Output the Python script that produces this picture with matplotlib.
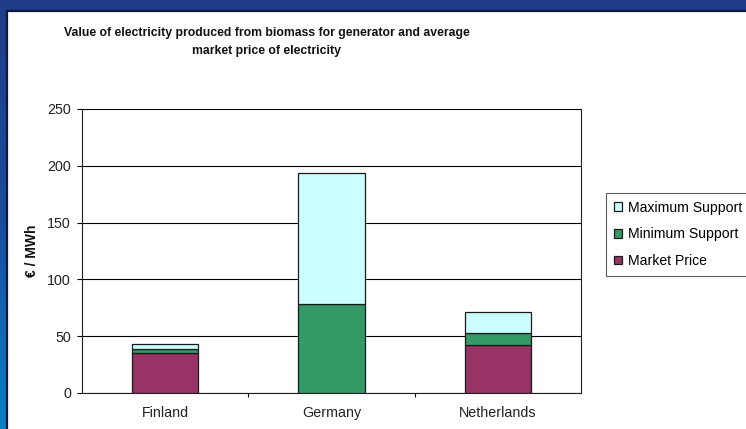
import numpy as np
import matplotlib.pyplot as plt
from matplotlib.patches import Rectangle
from matplotlib.colors import LinearSegmentedColormap

# Chart data (EUR / MWh)
countries = ['Finland', 'Germany', 'Netherlands']
market_price = [35, 0, 42]
minimum_support = [4, 78, 11]
maximum_support = [4, 116, 18]
series_labels = ['Market Price', 'Minimum Support', 'Maximum Support']
series_colors = ['#993366', '#339966', '#CCFFFF']

plt.rcParams['font.family'] = ['Liberation Sans', 'DejaVu Sans']

W, H = 746, 429
fig = plt.figure(figsize=(W / 100, H / 100), dpi=100)

# slide background: blue gradient, white chart panel on top
bg = fig.add_axes([0, 0, 1, 1], zorder=-10)
grad = np.linspace(0, 1, 256).reshape(-1, 1)
cmap = LinearSegmentedColormap.from_list('slide', ['#203D88', '#1B4C9C', '#0B80C8'])
bg.imshow(grad, aspect='auto', cmap=cmap, extent=[0, W, 0, H], origin='upper')
bg.add_patch(Rectangle((6.5, -5), W + 10, H - 11 + 5, facecolor='white',
                       edgecolor='#0B1A3E', lw=1.6))
bg.set_xlim(0, W)
bg.set_ylim(0, H)
bg.axis('off')

ax = fig.add_axes([82 / W, 1 - 393 / H, (581 - 82) / W, (393 - 109) / H])
x = np.arange(len(countries))
bottom = np.zeros(len(countries))
handles = []
for vals, lab, col in zip([market_price, minimum_support, maximum_support],
                          series_labels, series_colors):
    b = ax.bar(x, vals, width=0.4, bottom=bottom, color=col, edgecolor='#1a1a1a',
               linewidth=0.9, label=lab, zorder=3)
    handles.append(b)
    bottom += np.array(vals)

ax.set_xlim(-0.5, 2.5)
ax.set_ylim(0, 250)
ax.set_yticks(range(0, 251, 50))
ax.set_xticks(x)
ax.set_xticklabels(countries, fontsize=10.3, color='#222222')
for t in ax.get_xticklabels():
    t.set_va('baseline')  # keep "Germany" on the same baseline as the others
ax.tick_params(axis='x', length=0, pad=17)
ax.set_xticks([0.5, 1.5], minor=True)
ax.tick_params(axis='x', which='minor', length=3.2, width=0.8, direction='out')
ax.tick_params(axis='y', labelsize=10.3, length=3.6, width=0.8, direction='out',
               labelcolor='#222222', pad=4.3)
ax.grid(axis='y', color='#000000', linewidth=0.8, zorder=0)
for s in ax.spines.values():
    s.set_linewidth(0.8)
    s.set_color('#222222')
ax.spines['top'].set_visible(False)
ax.set_facecolor('white')

fig.text(32 / W, 1 - 251 / H, '€ / MWh', rotation=90, fontsize=10,
         fontweight='bold', ha='center', va='center', color='#111111')

fig.text(267 / W, 1 - 42 / H,
         'Value of electricity produced from biomass for generator and average\nmarket price of electricity',
         ha='center', va='center', fontsize=8.8, fontweight='bold',
         linespacing=1.65, color='#111111')

leg = fig.legend(handles[::-1], series_labels[::-1], loc='upper left',
                 bbox_to_anchor=(606 / W, 1 - 193 / H), fontsize=10.1,
                 frameon=True, fancybox=False, handlelength=0.6, handleheight=0.6,
                 handletextpad=0.4, labelspacing=0.9, borderpad=0.55,
                 borderaxespad=0)
leg.get_frame().set_edgecolor('#333333')
leg.get_frame().set_linewidth(0.8)

fig.savefig('out.png', dpi=100)
